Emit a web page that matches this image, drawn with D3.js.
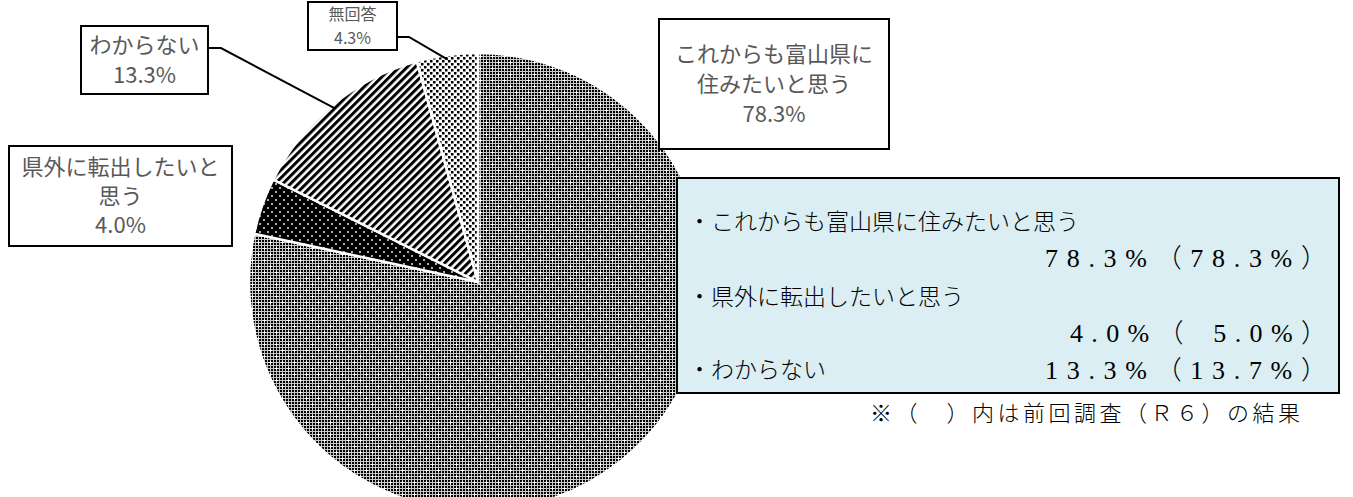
<!DOCTYPE html>
<html>
<head>
<meta charset="utf-8">
<script src="https://cdn.jsdelivr.net/npm/d3@7"></script>
<style>
  body { margin: 0; background: #fff; }
  svg { display: block; }
</style>
</head>
<body>
<script>
// データ
const categories = ["これからも富山県に住みたいと思う", "県外に転出したいと思う", "わからない", "無回答"];
const values = [78.3, 4.0, 13.3, 4.3];
const prevValues = [78.3, 5.0, 13.7, null];
const labelLines = [["これからも富山県に", "住みたいと思う"], ["県外に転出したいと", "思う"], ["わからない"], ["無回答"]];
const noteText = "※（　）内は前回調査（Ｒ６）の結果";

const width = 1353, height = 497;
const cx = 478, cy = 282, radius = 229;

const svg = d3.select("body").append("svg")
  .attr("width", width)
  .attr("height", height);

// パターン
const defs = svg.append("defs");

const chk = defs.append("pattern")
  .attr("id", "chk").attr("patternUnits", "userSpaceOnUse")
  .attr("width", 3).attr("height", 3);
chk.append("rect").attr("width", 3).attr("height", 3).attr("fill", "#c8c8c8");
chk.append("rect").attr("width", 2).attr("height", 2).attr("fill", "#000");

const big = defs.append("pattern")
  .attr("id", "big").attr("patternUnits", "userSpaceOnUse")
  .attr("width", 12).attr("height", 12);
big.append("rect").attr("width", 12).attr("height", 12).attr("fill", "url(#chk)");
[[2, 2], [8, 8]].forEach(([x, y]) => {
  big.append("rect").attr("x", x).attr("y", y - 1).attr("width", 1).attr("height", 3).attr("fill", "#fff");
  big.append("rect").attr("x", x - 1).attr("y", y).attr("width", 3).attr("height", 1).attr("fill", "#fff");
});

const blk = defs.append("pattern")
  .attr("id", "blk").attr("patternUnits", "userSpaceOnUse")
  .attr("width", 8).attr("height", 8);
blk.append("rect").attr("width", 8).attr("height", 8).attr("fill", "#000");
blk.append("circle").attr("cx", 2).attr("cy", 2).attr("r", 0.9).attr("fill", "#fff");
blk.append("circle").attr("cx", 6).attr("cy", 6).attr("r", 0.9).attr("fill", "#fff");

const stripe = defs.append("pattern")
  .attr("id", "stripe").attr("patternUnits", "userSpaceOnUse")
  .attr("width", 5.5).attr("height", 5.5)
  .attr("patternTransform", "rotate(45)");
stripe.append("rect").attr("width", 5.5).attr("height", 5.5).attr("fill", "#fff");
stripe.append("rect").attr("width", 3).attr("height", 5.5).attr("fill", "#000");

const dots = defs.append("pattern")
  .attr("id", "dots").attr("patternUnits", "userSpaceOnUse")
  .attr("width", 6).attr("height", 6);
dots.append("rect").attr("width", 6).attr("height", 6).attr("fill", "#fff");
dots.append("rect").attr("x", 0).attr("y", 0).attr("width", 2.5).attr("height", 2.5).attr("fill", "#000");
dots.append("rect").attr("x", 3).attr("y", 3).attr("width", 2.5).attr("height", 2.5).attr("fill", "#000");

const fills = ["url(#big)", "url(#blk)", "url(#stripe)", "url(#dots)"];

// 円グラフ
const pie = d3.pie().sort(null).value((d) => d);
const arcs = pie(values);
const arc = d3.arc().innerRadius(0).outerRadius(radius);

const g = svg.append("g").attr("transform", `translate(${cx},${cy})`);
g.selectAll("path")
  .data(arcs)
  .join("path")
  .attr("d", arc)
  .attr("fill", (d, i) => fills[i])
  .attr("stroke", "#fff")
  .attr("stroke-width", 2.5);

// ラベル
const boxes = [
  { x: 659, y: 19, w: 230, h: 130, fs: 22, lh: 30, lead: null },
  { x: 9, y: 146, w: 223, h: 100, fs: 22, lh: 29, lead: null },
  { x: 81, y: 26, w: 127, h: 68, fs: 22, lh: 30, lead: [208, 48, 221, 48] },
  { x: 308, y: 2, w: 89, h: 48, fs: 16, lh: 24, lead: [397, 37, 409, 37] }
];

boxes.forEach((b, i) => {
  if (b.lead) {
    const a = (arcs[i].startAngle + arcs[i].endAngle) / 2;
    const ex = cx + Math.sin(a) * radius * 0.98;
    const ey = cy - Math.cos(a) * radius * 0.98;
    svg.append("polyline")
      .attr("points", `${b.lead[0]},${b.lead[1]} ${b.lead[2]},${b.lead[3]} ${ex},${ey}`)
      .attr("fill", "none")
      .attr("stroke", "#000")
      .attr("stroke-width", 2);
  }
  svg.append("rect")
    .attr("x", b.x).attr("y", b.y).attr("width", b.w).attr("height", b.h)
    .attr("fill", "#fff").attr("stroke", "#000").attr("stroke-width", 2);
  const lines = labelLines[i].concat([d3.format(".1f")(values[i]) + "%"]);
  const y0 = b.y + b.h / 2 - (lines.length - 1) * b.lh / 2;
  svg.append("text")
    .attr("x", b.x + b.w / 2)
    .attr("text-anchor", "middle")
    .style("font-family", "'Noto Sans CJK JP', sans-serif")
    .style("font-size", b.fs + "px")
    .attr("fill", "#595959")
    .selectAll("tspan")
    .data(lines)
    .join("tspan")
    .attr("x", b.x + b.w / 2)
    .attr("y", (d, j) => y0 + j * b.lh)
    .attr("dy", "0.35em")
    .text((d) => d);
});

// 凡例ボックス
const pct = (v) => d3.format(".1f")(v) + "%";
const pad = (v) => (v < 10 ? "\u2002" : "") + pct(v);

const legend = svg.append("g");
legend.append("rect")
  .attr("x", 677).attr("y", 178).attr("width", 662).attr("height", 215)
  .attr("fill", "#daeef3").attr("stroke", "#000").attr("stroke-width", 2);

const sansFont = "'Noto Sans CJK JP', sans-serif";
const serifFont = "'Liberation Serif', 'Noto Sans CJK JP', serif";
const rows = [
  { t: "・" + categories[0], x: 688, y: 222, a: "start", f: sansFont, fs: 23 },
  { t: pct(values[0]) + "（" + pad(prevValues[0]) + "）", x: 1327, y: 258, a: "end", len: 282, f: serifFont, fs: 26 },
  { t: "・" + categories[1], x: 688, y: 297, a: "start", f: sansFont, fs: 23 },
  { t: pct(values[1]) + "（" + pad(prevValues[1]) + "）", x: 1327, y: 333, a: "end", len: 257, f: serifFont, fs: 26 },
  { t: "・" + categories[2], x: 688, y: 370, a: "start", f: sansFont, fs: 23 },
  { t: pct(values[2]) + "（" + pad(prevValues[2]) + "）", x: 1327, y: 370, a: "end", len: 282, f: serifFont, fs: 26 }
];
legend.selectAll("text")
  .data(rows)
  .join("text")
  .attr("x", (d) => d.x)
  .attr("y", (d) => d.y)
  .attr("dy", "0.35em")
  .attr("text-anchor", (d) => d.a)
  .attr("textLength", (d) => d.len || null)
  .attr("lengthAdjust", "spacing")
  .style("font-family", (d) => d.f)
  .style("font-size", (d) => d.fs + "px")
  .style("font-weight", 300)
  .attr("fill", "#000")
  .text((d) => d.t);

svg.append("text")
  .attr("x", 1300).attr("y", 413).attr("dy", "0.35em")
  .attr("text-anchor", "end")
  .attr("textLength", 430)
  .attr("lengthAdjust", "spacing")
  .style("font-family", sansFont)
  .style("font-size", "22px")
  .style("font-weight", 300)
  .attr("fill", "#000")
  .text(noteText);
</script>
</body>
</html>
